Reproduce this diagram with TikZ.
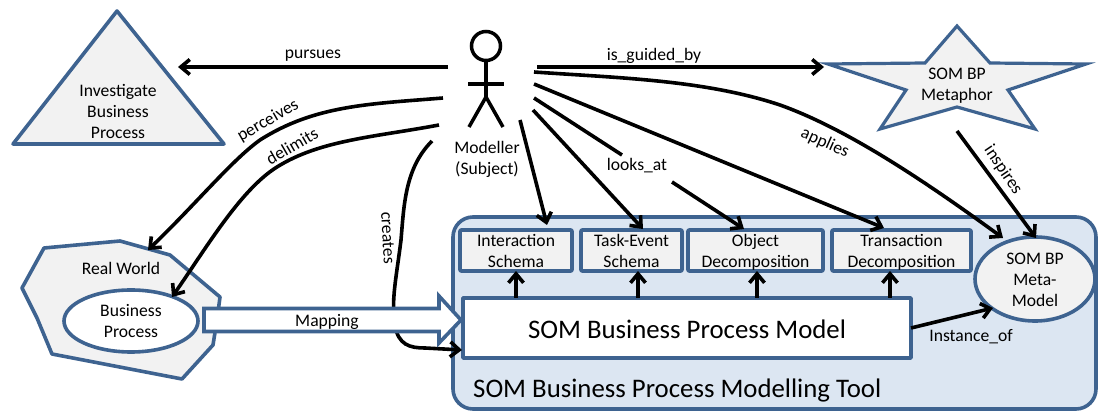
\documentclass[tikz,border=0pt]{standalone}
\usepackage{fontspec}
\setmainfont{Carlito}
\usetikzlibrary{arrows.meta,shapes.geometric}
\definecolor{sblue}{HTML}{3E6390}
\definecolor{sgrey}{HTML}{F2F2F2}
\definecolor{spale}{HTML}{DCE6F2}
\tikzset{
  shapeline/.style={draw=sblue,line width=3.6pt,line join=round},
  greyshape/.style={shapeline,fill=sgrey},
  subbox/.style={greyshape,rectangle,rounded corners=1pt,inner sep=0pt,align=center,font=\smalltxt},
  conn/.style={draw=black,line width=3.6pt,-{Straight Barb[length=9pt,width=15pt,line width=3.6pt]}},
  plainline/.style={draw=black,line width=3.6pt},
  lbl/.style={font=\smalltxt,inner sep=0pt,align=center},
  stick/.style={draw=black,line width=3.5pt},
}
\newcommand{\smalltxt}{\fontsize{17.6}{21}\selectfont}
\newcommand{\bigtxt}{\fontsize{26.8}{30}\selectfont}
\newcommand{\topfix}{\rule{0pt}{15.5pt}}
\begin{document}
\begin{tikzpicture}[x=1pt,y=-1pt]
\useasboundingbox (0,0) rectangle (1098,411);

% Triangle
\draw[greyshape] (117,11) -- (224,144) -- (13,144) -- cycle;
\node[lbl] (goal) at (118,111) {Investigate\\Business\\Process};

% Star
\draw[greyshape,line width=3.2pt,miter limit=10,line join=miter] (957,26) -- (990,63) -- (1086,64) -- (1008,90) -- (1035,129) -- (957,107) -- (880,129) -- (906,90) -- (828,64) -- (925,63) -- cycle;
\node[lbl] (metaphor) at (957,86) {SOM BP\\Metaphor};

% Real world
\draw[greyshape] (44,248) -- (120,241) -- (170,255) -- (220,297) -- (217,320) -- (213,345) -- (182,379) -- (52,354) -- (37,318) -- (22,288) -- cycle;
\node[lbl] (realworld) at (121,268) {Real World};
\node[shapeline,fill=white,ellipse,minimum width=134pt,minimum height=62pt,inner sep=0pt] (process) at (131,321) {};
\node[lbl] at (process) {Business\\Process};

% Tool container
\draw[shapeline,fill=spale,rounded corners=20pt] (453,217) rectangle (1096,409);
\node[font=\bigtxt,inner sep=0pt,anchor=west] (tool) at (473,390) {SOM Business Process Modelling Tool};

% Sub boxes
\node[subbox,minimum width=112pt,minimum height=41pt] (iact) at (516,250.5) {Interaction\\Schema};
\node[subbox,minimum width=101pt,minimum height=41pt] (task) at (631.5,250.5) {Task-Event\\Schema};
\node[subbox,minimum width=135pt,minimum height=41pt] (obj) at (755.5,250.5) {\topfix Object\\Decomposition};
\node[subbox,minimum width=139pt,minimum height=41pt] (trans) at (901.5,250.5) {\topfix Transaction\\Decomposition};
\node[shapeline,fill=white,rectangle,minimum width=448pt,minimum height=60pt,inner sep=0pt] (model) at (687,328) {};
\node[font=\bigtxt,inner sep=0pt] at (687,329) {SOM Business Process Model};
\node[greyshape,ellipse,minimum width=120pt,minimum height=84pt,inner sep=0pt] (meta) at (1035,279) {};
\node[lbl] at (1035,280) {SOM BP\\Meta-\\Model};

% Stick figure
\coordinate (hip) at (486,97);
\draw[stick] (486,46) circle (14.5);
\draw[stick] (486,60.5) -- (hip);
\draw[stick] (468,84) -- (504,84);
\draw[stick] (469,127) -- (hip) -- (503,127);
\node[lbl] (modeller) at (487,159) {Modeller\\(Subject)};

% Connector ends
\coordinate (m1) at (448,67);
\coordinate (goalend) at (178,67);
\coordinate (m2) at (537,67);
\coordinate (starend) at (824,67);
\coordinate (m3) at (534,72);
\coordinate (m4) at (534,84);
\coordinate (m5) at (534,98);
\coordinate (m6) at (533,110);
\coordinate (m7) at (520,120);
\coordinate (m8) at (443,98);
\coordinate (m9) at (439,125);
\coordinate (m10) at (432,141);

% Creates (beneath the Mapping arrow)
\draw[conn] (m10) .. controls (405,168) and (404,205) .. (401,240) .. controls (396,280) and (391,300) .. (395,325) .. controls (398,345) and (410,348) .. (425,348) -- (462,350);

% Mapping arrow
\coordinate (mapstart) at (204,320);
\coordinate (maptip) at (461,320);
\draw[shapeline,fill=white,line join=miter] (204,308.5) -- (439,308.5) -- (439,296) -- (maptip) -- (439,343) -- (439,331.5) -- (204,331.5) -- cycle;
\node[lbl] (mapping) at (327,322) {Mapping};

% Connectors
\draw[conn] (m1) -- (goalend);
\node[lbl] at (313,56) {pursues};
\draw[conn] (m2) -- (starend);
\node[lbl] at (654,56) {is\_guided\_by};
\draw[conn] (m3) .. controls (620,78) and (705,80) .. (780,105) .. controls (850,130) and (930,185) .. (1003,238);
\node[lbl,rotate=-24] at (825,143) {applies};
\draw[conn] (m4) -- (884,228);
\draw[plainline] (m5) -- (622,155);
\draw[conn] (672,182) -- (744,229);
\node[lbl] at (637,166) {looks\_at};
\draw[conn] (m6) -- (643,229);
\draw[conn] (m7) -- (547,225);
\draw[conn] (957,131) -- (1036,238);
\node[lbl,rotate=-56] at (1003,170) {inspires};
\draw[conn] (m8) .. controls (370,104) and (315,105) .. (260,140) .. controls (232,160) and (195,205) .. (148,250);
\node[lbl,rotate=30] at (268,121) {perceives};
\draw[conn] (m9) .. controls (375,137) and (320,140) .. (277,167) .. controls (240,190) and (205,250) .. (172,297);
\node[lbl,rotate=30] at (292,146) {delimits};
\node[lbl,rotate=-87] at (388,238) {creates};

\draw[conn] (516,298) -- (516,271);
\draw[conn] (638,298) -- (638,271);
\draw[conn] (757,298) -- (757,271);
\draw[conn] (890,298) -- (890,271);
\draw[conn] (911,328) -- (993,308);
\node[lbl] at (971,337) {Instance\_of};
\end{tikzpicture}
\end{document}
